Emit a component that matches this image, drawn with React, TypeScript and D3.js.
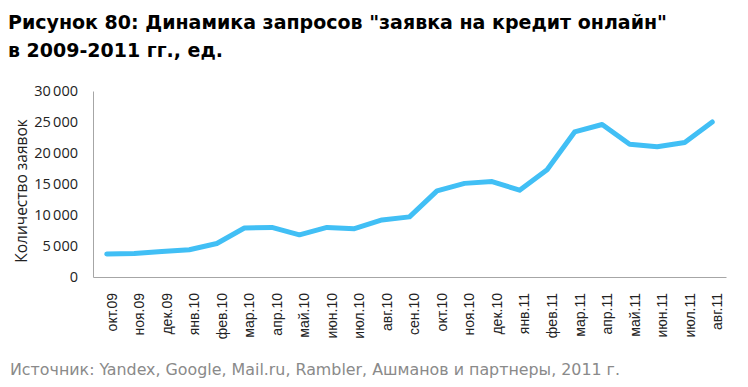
import React, { useEffect, useRef } from "react";
import * as d3 from "d3";

const months = [
  "окт.09", "ноя.09", "дек.09", "янв.10", "фев.10", "мар.10", "апр.10", "май.10",
  "июн.10", "июл.10", "авг.10", "сен.10", "окт.10", "ноя.10", "дек.10", "янв.11",
  "фев.11", "мар.11", "апр.11", "май.11", "июн.11", "июл.11", "авг.11",
];
const requests = [
  3700, 3800, 4100, 4400, 5400, 7900, 8000, 6800, 8000, 7800, 9200, 9700, 13900,
  15100, 15400, 14000, 17300, 23400, 24600, 21400, 21000, 21700, 25000,
];
const yTicks = [0, 5000, 10000, 15000, 20000, 25000, 30000];

const title1 = "Рисунок 80: Динамика запросов \"заявка на кредит онлайн\"";
const title2 = "в 2009-2011 гг., ед.";
const yTitle = "Количество заявок";
const source = "Источник: Yandex, Google, Mail.ru, Rambler, Ашманов и партнеры, 2011 г.";

function App() {
  const svgRef = useRef<SVGSVGElement | null>(null);

  useEffect(() => {
    drawChart();
  }, []);

  const drawChart = () => {
    const svg = d3.select(svgRef.current);
    svg.selectAll("*").remove();

    const left = 93;
    const right = 726;
    const top = 91;
    const bottom = 277;

    const xScale = d3.scaleBand<string>().domain(months).range([left, right]);
    const yScale = d3.scaleLinear().domain([0, 30000]).range([bottom, top]);
    const fmt = (v: number) => d3.format(",")(v).replace(",", "\u2009");

    // title
    svg.append("text")
      .attr("x", 8).attr("y", 29)
      .attr("font-family", "'DejaVu Sans Condensed', 'DejaVu Sans'")
      .attr("font-stretch", "condensed")
      .attr("font-weight", "bold").attr("font-size", 20)
      .attr("textLength", 659).attr("lengthAdjust", "spacingAndGlyphs")
      .attr("fill", "#000").text(title1);
    svg.append("text")
      .attr("x", 8).attr("y", 57)
      .attr("font-family", "'DejaVu Sans Condensed', 'DejaVu Sans'")
      .attr("font-stretch", "condensed")
      .attr("font-weight", "bold").attr("font-size", 20)
      .attr("textLength", 215).attr("lengthAdjust", "spacingAndGlyphs")
      .attr("fill", "#000").text(title2);

    // y axis
    const yAxis = d3.axisLeft(yScale).tickValues(yTicks).tickFormat((d) => fmt(d as number)).tickSize(0).tickPadding(15);
    const gy = svg.append("g").attr("transform", `translate(${left},0)`).call(yAxis);
    gy.select(".domain").attr("stroke", "#a6a6a6");
    gy.selectAll("text")
      .attr("font-family", "'Open Sans', 'Noto Sans'")
      .attr("font-size", 14.5).attr("fill", "#222");

    // x axis
    const xAxis = d3.axisBottom(xScale).tickSize(0).tickPadding(0);
    const gx = svg.append("g").attr("transform", `translate(0,${bottom})`).call(xAxis);
    gx.select(".domain").attr("stroke", "#a6a6a6");
    gx.selectAll("text")
      .attr("font-family", "'Liberation Sans', Arial")
      .attr("font-size", 14).attr("fill", "#222")
      .attr("text-anchor", "end")
      .attr("transform", "translate(5,16) rotate(-90)")
      .attr("dy", "0.35em").attr("dx", 0).attr("y", 0).attr("x", 0);

    // y title
    svg.append("text")
      .attr("transform", `translate(27,${(top + bottom) / 2 + 7}) rotate(-90)`)
      .attr("text-anchor", "middle")
      .attr("font-family", "'Open Sans', 'Noto Sans'")
      .attr("font-size", 15.5).attr("fill", "#222")
      .text(yTitle);

    const line = d3.line<number>()
      .x((_, i) => (xScale(months[i]) as number) + xScale.bandwidth() / 2)
      .y((d) => yScale(d));

    svg.append("path")
      .datum(requests)
      .attr("fill", "none")
      .attr("stroke", "#41bff5")
      .attr("stroke-width", 5)
      .attr("stroke-linejoin", "round")
      .attr("stroke-linecap", "round")
      .attr("d", line);

    svg.append("text")
      .attr("x", 10).attr("y", 375)
      .attr("font-family", "'DejaVu Sans Condensed', 'DejaVu Sans'")
      .attr("font-stretch", "condensed")
      .attr("font-size", 15).attr("fill", "#8a8a8a")
      .attr("textLength", 610).attr("lengthAdjust", "spacingAndGlyphs")
      .text(source);
  };

  return (
    <div>
      <svg ref={svgRef} width={748} height={387} style={{ display: "block", margin: "-8px", background: "#fff" }} />
    </div>
  );
}

export default App;
